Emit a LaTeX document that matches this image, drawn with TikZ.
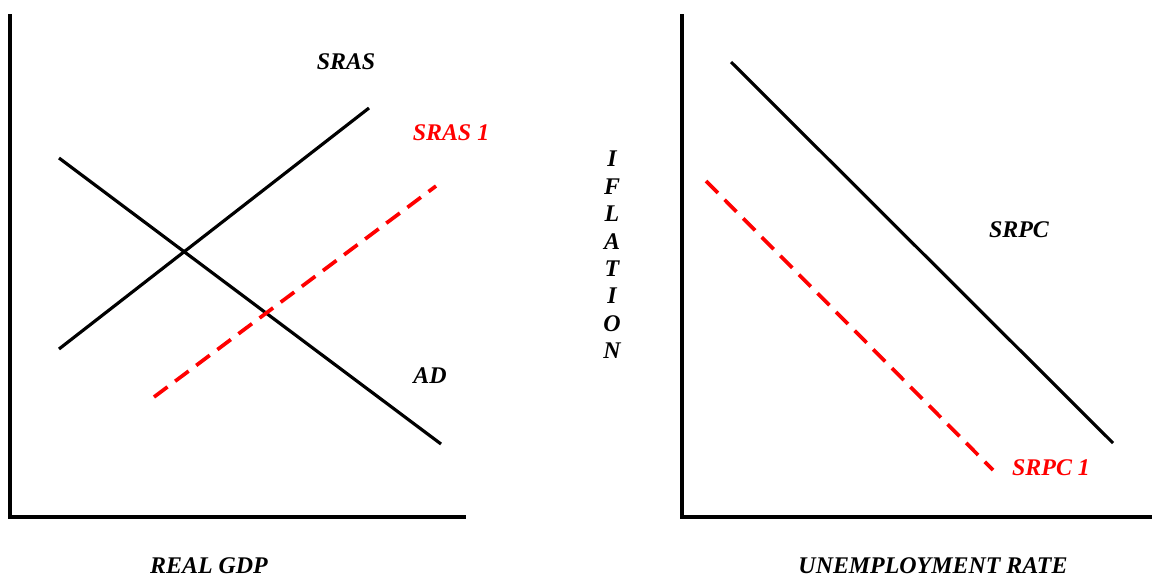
\documentclass[tikz,border=0pt]{standalone}
\usepackage{fontspec}
\setmainfont{Liberation Serif}
\usetikzlibrary{positioning}
\definecolor{Ink}{HTML}{000000}
\definecolor{ShiftRed}{HTML}{FF0000}
\tikzset{
  axis/.style={draw=Ink, line width=1.15pt},
  curve/.style={draw=Ink, line width=0.9pt},
  shifted/.style={draw=ShiftRed, line width=1.05pt, dash pattern=on 4.8pt off 2.7pt},
  curvelabel/.style={font=\bfseries\itshape\fontsize{6.8}{8}\selectfont, text=Ink, inner sep=0pt},
  shiftlabel/.style={curvelabel, text=ShiftRed},
  axislabel/.style={font=\bfseries\itshape\fontsize{6.8}{8}\selectfont, text=Ink, inner sep=0pt, align=center},
}

\begin{document}
\begin{tikzpicture}[x=0.01cm, y=-0.01cm]
  \useasboundingbox (0,0) rectangle (1152,575);

  % Left panel: aggregate demand and supply.
  \coordinate (gdpOrigin) at (10,517);
  \coordinate (gdpTop) at (10,14);
  \coordinate (gdpRight) at (466,517);
  \coordinate (srasLow) at (59,349);
  \coordinate (srasHigh) at (369,108);
  \coordinate (adHigh) at (59,158);
  \coordinate (adLow) at (441,444);
  \coordinate (srasOneLow) at (154,397);
  \coordinate (srasOneHigh) at (436,186);

  \draw[axis] (gdpTop) -- (gdpOrigin) -- (gdpRight);
  \draw[curve] (srasLow) -- (srasHigh);
  \draw[curve] (adHigh) -- (adLow);
  \draw[shifted] (srasOneLow) -- (srasOneHigh);

  \node[curvelabel] (srasLabel) at (346,62) {SRAS};
  \node[shiftlabel] (srasOneLabel) at (451,133) {SRAS 1};
  \node[curvelabel] (adLabel) at (430,376) {AD};
  \node[axislabel] (gdpLabel) at (209,566) {REAL GDP};

  % Right panel: Phillips curve.
  \coordinate (unOrigin) at (682,517);
  \coordinate (unTop) at (682,14);
  \coordinate (unRight) at (1152,517);
  \coordinate (srpcHigh) at (731,62);
  \coordinate (srpcLow) at (1113,443);
  \coordinate (srpcOneHigh) at (706,181);
  \coordinate (srpcOneLow) at (993,470);

  \draw[axis] (unTop) -- (unOrigin) -- (unRight);
  \draw[curve] (srpcHigh) -- (srpcLow);
  \draw[shifted] (srpcOneHigh) -- (srpcOneLow);

  \node[curvelabel] (srpcLabel) at (1019,230) {SRPC};
  \node[shiftlabel] (srpcOneLabel) at (1051,468) {SRPC 1};
  \node[axislabel] (unLabel) at (933,566) {UNEMPLOYMENT RATE};
  \node[axislabel, font=\bfseries\itshape\fontsize{6.8}{7.8}\selectfont] (inflLabel) at (612,255)
    {I\\F\\L\\A\\T\\I\\O\\N};

\end{tikzpicture}
\end{document}
